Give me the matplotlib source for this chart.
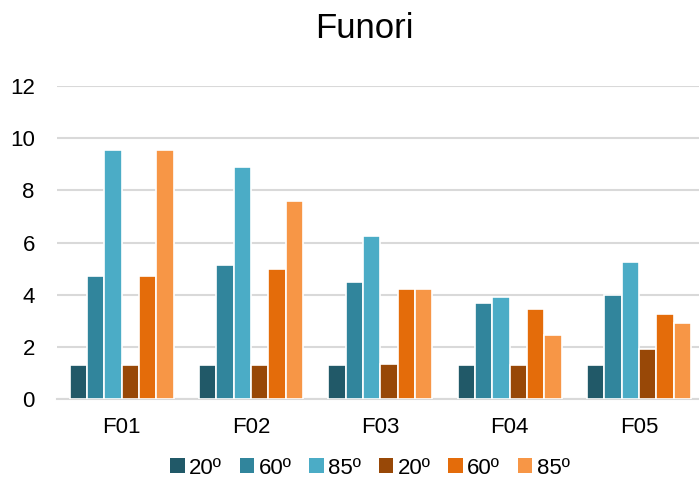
import matplotlib
matplotlib.use("Agg")
import matplotlib.pyplot as plt
import numpy as np
from matplotlib.patches import Patch

plt.rcParams['font.family'] = ['Liberation Sans', 'DejaVu Sans']

categories = ["F01", "F02", "F03", "F04", "F05"]
series_labels = ["20º", "60º", "85º", "20º", "60º", "85º"]
teal_20 = [1.31, 1.31, 1.31, 1.31, 1.31]
teal_60 = [4.73, 5.15, 4.49, 3.69, 3.98]
teal_85 = [9.54, 8.90, 6.25, 3.92, 5.25]
orange_20 = [1.31, 1.31, 1.35, 1.31, 1.93]
orange_60 = [4.73, 4.99, 4.22, 3.46, 3.27]
orange_85 = [9.54, 7.60, 4.22, 2.46, 2.91]
series = [teal_20, teal_60, teal_85, orange_20, orange_60, orange_85]
colors = ["#215968", "#31859C", "#4BACC6", "#984807", "#E46C0A", "#F79646"]

fig = plt.figure(figsize=(6.99, 4.93), dpi=100)
ax = fig.add_axes([57 / 699, 1 - 399.3 / 493, (699 - 57) / 699, (399.3 - 85.7) / 493])

x = np.arange(len(categories))
pitch = 0.134
width = 0.134
for i, (vals, c) in enumerate(zip(series, colors)):
    ax.bar(x + (i - 2.5) * pitch, vals, width=width, color=c,
           edgecolor="white", linewidth=1.2, zorder=3)

ax.set_ylim(0, 12)
ax.set_xlim(-0.5, -0.5 + 642 / 129.3)
ax.set_yticks(range(0, 13, 2))
ax.yaxis.grid(True, color="#D9D9D9", linewidth=1.5, zorder=0)
ax.set_xticks(x)
ax.set_xticklabels(categories)
ax.tick_params(axis="both", length=0, labelsize=16, colors="#000000")
ax.tick_params(axis="x", pad=13)
ax.tick_params(axis="y", pad=16)
for s in ["top", "right", "left"]:
    ax.spines[s].set_visible(False)
ax.spines["bottom"].set_color("#D9D9D9")
ax.spines["bottom"].set_linewidth(1.5)

fig.text(364 / 699, 1 - 29 / 493, "Funori", ha="center", va="center", fontsize=25)

handles = [Patch(facecolor=c, edgecolor="none") for c in colors]
fig.legend(handles, series_labels, loc="center", bbox_to_anchor=(370 / 699, 1 - 468 / 493),
           ncol=6, frameon=False, fontsize=16, handlelength=0.65, handleheight=0.65,
           handletextpad=0.2, columnspacing=0.8)

fig.savefig("out.png", dpi=100)
